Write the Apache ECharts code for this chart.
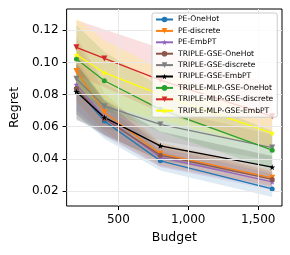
<!DOCTYPE html>
<html><head><meta charset="utf-8">
<script src="https://cdn.jsdelivr.net/npm/echarts@6/dist/echarts.min.js"></script>
<style>html,body{margin:0;padding:0;background:#fff}#c{width:290px;height:255px}</style>
</head><body><div id="c"></div>
<script>
// ---- data ----
const budgets = [200, 400, 800, 1600];
const seriesNames = ['PE-OneHot','PE-discrete','PE-EmbPT','TRIPLE-GSE-OneHot','TRIPLE-GSE-discrete','TRIPLE-GSE-EmbPT','TRIPLE-MLP-GSE-OneHot','TRIPLE-MLP-GSE-discrete','TRIPLE-MLP-GSE-EmbPT'];
const peOneHot       = [0.0835, 0.0635, 0.0388, 0.0213];
const peDiscrete     = [0.0947, 0.0690, 0.0432, 0.0282];
const peEmbPT        = [0.0862, 0.0660, 0.0410, 0.0257];
const gseOneHot      = [0.0838, 0.0650, 0.0423, 0.0272];
const gseDiscrete    = [0.0899, 0.0728, 0.0614, 0.0470];
const gseEmbPT       = [0.0818, 0.0658, 0.0481, 0.0348];
const mlpOneHot      = [0.1021, 0.0886, 0.0708, 0.0454];
const mlpDiscrete    = [0.1094, 0.1025, 0.0890, 0.0665];
const mlpEmbPT       = [0.1048, 0.0936, 0.0800, 0.0560];
// spread (half-width of shaded band)
const peOneHotStd    = [0.016, 0.011, 0.006, 0.005];
const peDiscreteStd  = [0.019, 0.012, 0.007, 0.005];
const peEmbPTStd     = [0.016, 0.011, 0.006, 0.005];
const gseOneHotStd   = [0.016, 0.011, 0.007, 0.005];
const gseDiscreteStd = [0.026, 0.014, 0.010, 0.008];
const gseEmbPTStd    = [0.017, 0.011, 0.009, 0.007];
const mlpOneHotStd   = [0.021, 0.018, 0.014, 0.012];
const mlpDiscreteStd = [0.017, 0.018, 0.020, 0.020];
const mlpEmbPTStd    = [0.023, 0.020, 0.016, 0.010];
const xTicks = [500, 1000, 1500];
const yTicks = [0.02, 0.04, 0.06, 0.08, 0.10, 0.12];

// ---- styles ----
const means = [peOneHot, peDiscrete, peEmbPT, gseOneHot, gseDiscrete, gseEmbPT, mlpOneHot, mlpDiscrete, mlpEmbPT];
const stds = [peOneHotStd, peDiscreteStd, peEmbPTStd, gseOneHotStd, gseDiscreteStd, gseEmbPTStd, mlpOneHotStd, mlpDiscreteStd, mlpEmbPTStd];
const colors = ['#1f77b4','#ff7f0e','#9467bd','#8c564b','#7f7f7f','#000000','#2ca02c','#d62728','#ffff00'];
const STAR = 'path://M0,-10 L2.35,-3.24 L9.51,-3.09 L3.8,1.24 L5.88,8.09 L0,4 L-5.88,8.09 L-3.8,1.24 L-9.51,-3.09 L-2.35,-3.24 Z';
const TRI = 'path://M-5,-4 L5,-4 L0,5 Z';
const symbols = ['circle', TRI, STAR, 'circle', TRI, STAR, 'circle', TRI, STAR];
const sizes = [5, 6, 6, 5, 6, 6, 5, 6, 6];
const FONT = 'DejaVu Sans';
const GRIDC = '#e8e8e8';

const series = [];
// grid lines (drawn via markLine through the axes)
series.push({
  name: 'gridlines', type: 'line', data: [], silent: true, z: 0,
  markLine: {
    silent: true, symbol: 'none', animation: false, label: { show: false },
    lineStyle: { color: GRIDC, width: 1, type: 'solid' },
    data: xTicks.map(v => ({ xAxis: v })).concat(yTicks.map(v => ({ yAxis: v })))
  }
});
means.forEach((m, i) => {
  series.push({
    name: 'band_' + i, type: 'custom', silent: true, z: 1,
    data: budgets.map((b, j) => [b, m[j] - stds[i][j], m[j] + stds[i][j]]),
    renderItem: function (params, api) {
      if (params.dataIndexInside !== 0) return;
      const n = budgets.length;
      const top = [], bot = [];
      for (let k = 0; k < n; k++) {
        top.push(api.coord([api.value(0, k), api.value(2, k)]));
        bot.push(api.coord([api.value(0, k), api.value(1, k)]));
      }
      return {
        type: 'polygon',
        shape: { points: top.concat(bot.reverse()) },
        style: { fill: colors[i], opacity: 0.15 }
      };
    }
  });
});
means.forEach((m, i) => {
  series.push({
    name: seriesNames[i], type: 'line', z: 3,
    symbol: symbols[i], symbolSize: sizes[i], showAllSymbol: true,
    itemStyle: { color: colors[i] },
    lineStyle: { color: colors[i], width: 1.3 },
    data: budgets.map((b, j) => [b, m[j]])
  });
});

const chart = echarts.init(document.getElementById('c'), null, { renderer: 'canvas' });
chart.setOption({
  animation: false,
  backgroundColor: '#fff',
  textStyle: { fontFamily: FONT },
  grid: { left: 64, right: 8, top: 9, bottom: 49, show: true, borderColor: '#000', borderWidth: 1, backgroundColor: 'transparent' },
  legend: {
    z: 20,
    data: seriesNames, orient: 'vertical', left: 152, top: 13,
    itemWidth: 17, itemHeight: 7, itemGap: 3.4,
    padding: [2.5, 4, 2.5, 3],
    backgroundColor: 'rgba(255,255,255,0.8)', borderColor: '#cccccc', borderWidth: 1, borderRadius: 2,
    textStyle: { fontFamily: FONT, fontSize: 7.6, color: '#000', lineHeight: 8 }
  },
  xAxis: {
    type: 'value', min: 130, max: 1670,
    name: 'Budget', nameLocation: 'middle', nameGap: 25,
    nameTextStyle: { fontFamily: FONT, fontSize: 12.5, color: '#000' },
    axisLine: { show: false },
    axisTick: { show: true, inside: false, length: 4, customValues: xTicks, lineStyle: { color: '#000', width: 1 } },
    axisLabel: { customValues: xTicks, margin: 8, fontFamily: FONT, fontSize: 12, color: '#000' },
    splitLine: { show: false }
  },
  yAxis: {
    type: 'value', min: 0.01067, max: 0.13325,
    name: 'Regret', nameLocation: 'middle', nameGap: 43, nameRotate: 90,
    nameTextStyle: { fontFamily: FONT, fontSize: 12.5, color: '#000' },
    axisLine: { show: false },
    axisTick: { show: true, inside: false, length: 4, customValues: yTicks, lineStyle: { color: '#000', width: 1 } },
    axisLabel: { customValues: yTicks, margin: 8, fontFamily: FONT, fontSize: 12, color: '#000', formatter: v => v.toFixed(2) },
    splitLine: { show: false }
  },
  series: series
});
</script>
</body></html>
